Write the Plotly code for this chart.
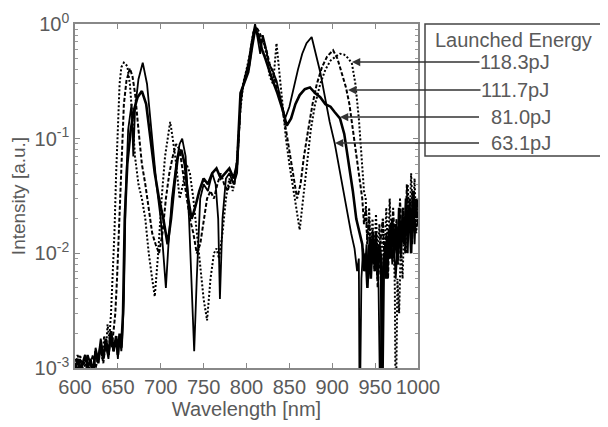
import plotly.graph_objects as go

# ---- data ----
wl_1183 = [600, 603, 606, 609, 612, 615, 618, 621, 624, 627, 630, 632, 634, 636, 638, 640, 642, 644, 646, 648,
           650, 652, 654, 657, 661, 664, 667, 670, 674, 678, 682, 686, 690, 693, 697, 701, 705, 709, 711, 714,
           718, 722, 726, 730, 734, 738, 742, 746, 750, 754, 758, 762, 765, 768, 772, 776, 780, 784, 788, 792,
           796, 800, 804, 808, 811, 815, 819, 823, 827, 831, 835, 838, 842, 846, 850, 854, 858, 862, 866, 870,
           875, 880, 886, 892, 898, 904, 909, 914, 919, 923, 927, 931, 935, 937, 939, 941, 943, 945, 947, 949,
           951, 953, 955, 957, 959, 961, 963, 965, 967, 969, 971, 973, 974, 976, 978, 980, 982, 984, 986, 988,
           990, 992, 994, 996, 998, 1000]
int_1183 = [0.0012, 0.0010, 0.0013, 0.0009, 0.0011, 0.0010, 0.0012, 0.0009, 0.0014, 0.0011, 0.0016, 0.0012, 0.0019, 0.0014, 0.0024, 0.0018, 0.0030, 0.006, 0.015, 0.05,
            0.15, 0.30, 0.42, 0.46, 0.43, 0.30, 0.15, 0.07, 0.04, 0.03, 0.02, 0.01, 0.006, 0.0042, 0.01, 0.03, 0.07, 0.12, 0.14, 0.10,
            0.06, 0.03, 0.04, 0.06, 0.05, 0.03, 0.015, 0.007, 0.004, 0.0026, 0.006, 0.01, 0.011, 0.009, 0.015, 0.03, 0.045, 0.035, 0.05, 0.15,
            0.30, 0.40, 0.55, 0.85, 0.90, 0.70, 0.75, 0.55, 0.35, 0.30, 0.68, 0.40, 0.20, 0.10, 0.06, 0.04, 0.025, 0.016, 0.03, 0.06,
            0.12, 0.20, 0.30, 0.40, 0.48, 0.52, 0.55, 0.54, 0.50, 0.45, 0.30, 0.15, 0.06, 0.035, 0.03, 0.012, 0.025, 0.01, 0.02, 0.008,
            0.022, 0.009, 0.018, 0.006, 0.02, 0.009, 0.025, 0.01, 0.03, 0.012, 0.02, 0.005, 0.0003, 0.006, 0.003, 0.012, 0.006, 0.02, 0.01, 0.04,
            0.015, 0.05, 0.02, 0.045, 0.015, 0.03]

wl_1117 = [600, 603, 606, 609, 612, 615, 618, 621, 624, 627, 630, 633, 636, 639, 641, 643, 645, 647, 649, 651,
           653, 655, 657, 660, 664, 667, 670, 674, 678, 682, 686, 690, 694, 698, 702, 706, 710, 714, 718, 722,
           726, 730, 734, 738, 742, 746, 750, 754, 758, 762, 766, 770, 774, 778, 782, 786, 790, 794, 798, 803,
           807, 811, 815, 819, 823, 827, 832, 837, 842, 846, 850, 854, 859, 863, 867, 872, 877, 882, 888, 894,
           901, 906, 911, 916, 920, 924, 928, 932, 935, 937, 939, 941, 943, 945, 947, 949, 951, 953, 955, 957,
           959, 961, 963, 965, 967, 969, 971, 973, 975, 977, 979, 981, 983, 985, 987, 989, 991, 993, 995, 997, 1000]
int_1117 = [0.0010, 0.0013, 0.0011, 0.0010, 0.0012, 0.0009, 0.0011, 0.0013, 0.0010, 0.0012, 0.0015, 0.0011, 0.0017, 0.0013, 0.0020, 0.0015, 0.0022, 0.003, 0.006, 0.015,
            0.04, 0.10, 0.20, 0.32, 0.41, 0.35, 0.25, 0.12, 0.06, 0.04, 0.025, 0.015, 0.012, 0.01, 0.015, 0.03, 0.05, 0.07, 0.09, 0.08,
            0.05, 0.03, 0.02, 0.015, 0.01, 0.012, 0.02, 0.03, 0.035, 0.03, 0.04, 0.05, 0.04, 0.035, 0.045, 0.04, 0.08, 0.25, 0.33, 0.42,
            0.70, 0.95, 0.85, 0.70, 0.60, 0.45, 0.35, 0.25, 0.18, 0.12, 0.08, 0.05, 0.03, 0.04, 0.07, 0.12, 0.20, 0.30, 0.42, 0.52,
            0.59, 0.50, 0.38, 0.28, 0.20, 0.12, 0.07, 0.04, 0.03, 0.018, 0.025, 0.012, 0.02, 0.009, 0.016, 0.007, 0.012, 0.005, 0.01, 0.015,
            0.02, 0.008, 0.015, 0.006, 0.018, 0.01, 0.025, 0.012, 0.02, 0.008, 0.03, 0.014, 0.025, 0.01, 0.04, 0.018, 0.03, 0.012, 0.035, 0.015, 0.02]

wl_810 = [600, 603, 606, 609, 612, 615, 618, 621, 624, 627, 630, 633, 636, 639, 642, 645, 648, 650, 652, 654,
          656, 658, 661, 665, 669, 673, 678, 683, 688, 693, 698, 703, 708, 712, 716, 720, 724, 728, 732, 736,
          740, 745, 750, 755, 760, 765, 770, 775, 780, 785, 789, 793, 797, 802, 806, 810, 814, 818, 822, 826,
          830, 836, 842, 847, 852, 857, 862, 868, 874, 880, 886, 892, 898, 903, 909, 914, 919, 924, 928, 932,
          935, 937, 939, 941, 943, 945, 947, 949, 951, 953, 955, 957, 958, 960, 962, 964, 966, 968, 970, 972,
          974, 976, 978, 980, 982, 984, 986, 988, 990, 992, 994, 996, 998, 1000]
int_810 = [0.0009, 0.0012, 0.0010, 0.0011, 0.0013, 0.0010, 0.0012, 0.0009, 0.0014, 0.0011, 0.0016, 0.0012, 0.0018, 0.0013, 0.0021, 0.0014, 0.0019, 0.0013, 0.0020, 0.0015,
           0.003, 0.02, 0.06, 0.12, 0.18, 0.23, 0.26, 0.20, 0.10, 0.05, 0.03, 0.02, 0.012, 0.02, 0.04, 0.07, 0.08, 0.06, 0.03, 0.02,
           0.025, 0.035, 0.045, 0.04, 0.05, 0.055, 0.045, 0.05, 0.055, 0.045, 0.06, 0.25, 0.30, 0.38, 0.60, 0.90, 0.80, 0.60, 0.50, 0.40,
           0.33, 0.25, 0.18, 0.13, 0.15, 0.20, 0.24, 0.27, 0.28, 0.25, 0.23, 0.20, 0.19, 0.17, 0.15, 0.11, 0.065, 0.035, 0.02, 0.015,
           0.012, 0.007, 0.01, 0.005, 0.012, 0.006, 0.014, 0.008, 0.015, 0.006, 0.012, 0.009, 0.0003, 0.007, 0.012, 0.006, 0.016, 0.009, 0.02, 0.01,
           0.018, 0.008, 0.025, 0.01, 0.02, 0.012, 0.03, 0.015, 0.025, 0.01, 0.035, 0.018, 0.03, 0.025]

wl_631 = [600, 603, 606, 609, 612, 615, 618, 621, 624, 627, 630, 633, 636, 639, 642, 645, 648, 650, 652, 654,
          655, 657, 659, 662, 666, 668, 670, 674, 679, 684, 690, 695, 700, 704, 706, 709, 713, 718, 722, 725,
          729, 733, 736, 739, 742, 746, 750, 755, 760, 764, 767, 769, 772, 776, 780, 785, 789, 793, 797, 802,
          806, 810, 813, 816, 819, 822, 826, 830, 835, 840, 845, 850, 855, 860, 865, 870, 876, 881, 886, 892,
          897, 903, 908, 913, 918, 922, 926, 929, 931, 932, 934, 936, 938, 940, 942, 944, 946, 948, 950, 952,
          954, 956, 958, 960, 962, 964, 966, 968, 970, 972, 974, 976, 978, 980, 982, 984, 986, 988, 990, 992,
          994, 996, 998, 1000]
int_631 = [0.0011, 0.0009, 0.0012, 0.0010, 0.0008, 0.0013, 0.0011, 0.0009, 0.0015, 0.0012, 0.0018, 0.0013, 0.0016, 0.0012, 0.0020, 0.0014, 0.0018, 0.0012, 0.0019, 0.0014,
           0.0017, 0.004, 0.03, 0.12, 0.20, 0.07, 0.18, 0.33, 0.46, 0.30, 0.10, 0.04, 0.02, 0.008, 0.005, 0.012, 0.03, 0.06, 0.09, 0.10,
           0.07, 0.02, 0.005, 0.0014, 0.006, 0.03, 0.04, 0.035, 0.05, 0.04, 0.02, 0.004, 0.02, 0.045, 0.05, 0.04, 0.05, 0.20, 0.32, 0.45,
           0.70, 1.0, 0.75, 0.55, 0.80, 0.65, 0.45, 0.40, 0.32, 0.22, 0.15, 0.19, 0.28, 0.40, 0.55, 0.68, 0.77, 0.55, 0.38, 0.22,
           0.14, 0.09, 0.055, 0.035, 0.022, 0.015, 0.011, 0.007, 0.009, 0.0003, 0.006, 0.011, 0.007, 0.012, 0.006, 0.014, 0.008, 0.015, 0.007, 0.012,
           0.005, 0.0004, 0.005, 0.01, 0.006, 0.014, 0.009, 0.018, 0.008, 0.012, 0.006, 0.01, 0.02, 0.009, 0.025, 0.012, 0.022, 0.01, 0.03, 0.014,
           0.025, 0.012, 0.028, 0.018]

energy_labels = ["118.3pJ", "111.7pJ", "81.0pJ", "63.1pJ"]
y_tick_vals = [1e-3, 1e-2, 1e-1, 1]
y_tick_text = ["10<sup>-3</sup>", "10<sup>-2</sup>", "10<sup>-1</sup>", "10<sup>0</sup>"]
x_tick_vals = [600, 650, 700, 750, 800, 850, 900, 950, 1000]
y_minor_vals = [m * d for d in (1e-3, 1e-2, 1e-1) for m in range(2, 10)]

GRAY = "#5a5a5a"
FONT = "Liberation Sans, Arial, sans-serif"

fig = go.Figure()
series = [
    (wl_1183, int_1183, dict(color="black", width=2.0, dash="2px,2px")),
    (wl_1117, int_1117, dict(color="black", width=2.0, dash="4px,2px")),
    (wl_810, int_810, dict(color="black", width=2.6)),
    (wl_631, int_631, dict(color="black", width=1.8)),
]
for (x, y, ln), name in zip(series, energy_labels):
    fig.add_trace(go.Scatter(x=x, y=y, mode="lines", line=ln, name=name, showlegend=False))

# page body adds an 8px offset; screen coordinates below are page pixels
OFF = 8
W, H = 600, 419
ML, MR, MT, MB = 67, 190, 16, 59
PW, PH = W - ML - MR, H - MT - MB


def px(xs):
    return (xs - OFF - ML) / PW


def py(ys):
    return 1 - (ys - OFF - MT) / PH


fig.update_layout(
    width=W, height=H,
    margin=dict(l=ML, r=MR, t=MT, b=MB, autoexpand=False),
    plot_bgcolor="white", paper_bgcolor="white",
    font=dict(family=FONT, color=GRAY, size=20),
    xaxis=dict(range=[600, 1000], tickvals=x_tick_vals, ticks="inside", ticklen=5,
               tickcolor="#888", showline=True, linecolor="#888", linewidth=1.5, mirror="allticks",
               showgrid=False, zeroline=False, automargin=False,
               title=dict(text="Wavelength [nm]", standoff=2, font=dict(size=20)),
               tickfont=dict(size=20)),
    yaxis=dict(type="log", range=[-3, 0], tickvals=y_tick_vals, ticktext=y_tick_text,
               ticks="inside", ticklen=5, tickcolor="#888",
               minor=dict(tickvals=y_minor_vals, ticks="inside", ticklen=3, tickcolor="#999",
                          tickwidth=1, showgrid=False),
               showline=True, linecolor="#888", linewidth=1.5, mirror="allticks",
               showgrid=False, zeroline=False, automargin=False,
               title=dict(text="Intensity [a.u.]", standoff=4, font=dict(size=19)),
               tickfont=dict(size=20)),
)

# legend box
fig.add_shape(type="rect", xref="paper", yref="paper",
              x0=px(425), x1=px(606), y0=py(156), y1=py(24),
              line=dict(color="#444", width=1.5), fillcolor="white", layer="below")
fig.add_annotation(xref="paper", yref="paper", x=px(513), y=py(40), text="Launched Energy",
                   showarrow=False, xanchor="center", yanchor="middle", font=dict(size=20, color=GRAY))

label_text = ["118.3pJ", "111.7pJ", "&nbsp;&nbsp;81.0pJ", "&nbsp;&nbsp;63.1pJ"]
label_y = [62, 90, 117, 143]
arrow_head_x = [352, 348, 340, 335]
for lab, ly, hx in zip(label_text, label_y, arrow_head_x):
    fig.add_annotation(xref="paper", yref="paper", x=px(hx), y=py(ly), text=lab,
                       showarrow=True, arrowhead=2, arrowsize=1.1, arrowwidth=1.5, arrowcolor="#333",
                       ax=515 - hx, ay=0, axref="pixel", ayref="pixel", borderpad=0,
                       font=dict(size=20, color=GRAY))

fig.write_html("out.html")
